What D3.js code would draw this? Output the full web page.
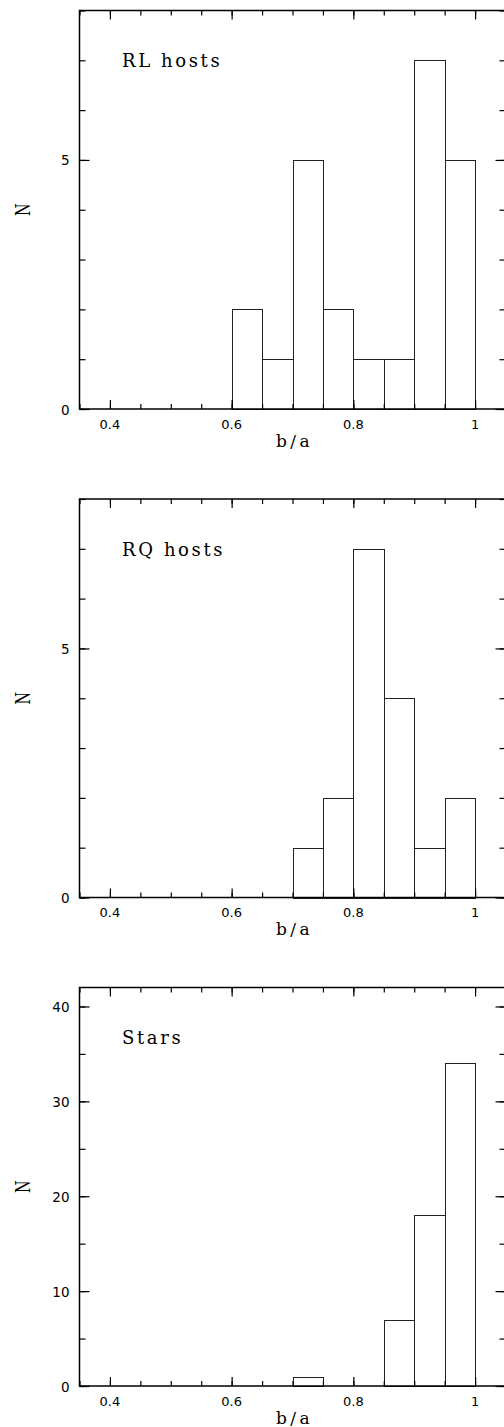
<!DOCTYPE html>
<html><head><meta charset="utf-8">
<script src="https://cdn.jsdelivr.net/npm/d3@7"></script>
<style>html,body{margin:0;padding:0;background:#fff;overflow:hidden}</style>
</head><body>
<svg id="chart" width="504" height="1427"></svg>
<script>
// ---- data ----
const binStarts = [0.60, 0.65, 0.70, 0.75, 0.80, 0.85, 0.90, 0.95];
const binWidth = 0.05;
const rlCounts = [2, 1, 5, 2, 1, 1, 7, 5];
const rqCounts = [0, 0, 1, 2, 7, 4, 1, 2];
const starCounts = [0, 0, 1, 0, 0, 7, 18, 34];
const panelNames = ["RL hosts", "RQ hosts", "Stars"];
const xMajorTicks = [0.4, 0.6, 0.8, 1.0];
const xTickLabels = ["0.4", "0.6", "0.8", "1"];
const xMinorTicks = [0.35,0.40,0.45,0.50,0.55,0.60,0.65,0.70,0.75,0.80,0.85,0.90,0.95,1.00,1.05];
const yMaxes = [8, 8, 42];
const yMajorTicksList = [[0, 5], [0, 5], [0, 10, 20, 30, 40]];
const yMinorTicksList = [[0,1,2,3,4,5,6,7,8],[0,1,2,3,4,5,6,7,8],[0,5,10,15,20,25,30,35,40]];
const xLabel = "b/a", yLabel = "N";

// ---- layout ----
const svg = d3.select("#chart");
const left = 79.5, right = 505.5;
const tops = [10.5, 499, 987.5], panelH = 398.5;
const x = d3.scaleLinear().domain([0.35, 1.05]).range([left, right]);
const seriesList = [rlCounts, rqCounts, starCounts];

seriesList.forEach((counts, i) => {
  const top = tops[i], bottom = top + panelH;
  const y = d3.scaleLinear().domain([0, yMaxes[i]]).range([bottom, top]);
  const g = svg.append("g");

  // bars
  const bins = binStarts.map((s, j) => ({s, n: counts[j]})).filter(d => d.n > 0);
  g.selectAll("rect.bar").data(bins).enter().append("rect")
    .attr("class", "bar")
    .attr("x", d => Math.round(x(d.s)) + 0.5)
    .attr("width", d => Math.round(x(d.s + binWidth)) - Math.round(x(d.s)))
    .attr("y", d => Math.round(y(d.n)) + 0.5)
    .attr("height", d => Math.round(bottom) - Math.round(y(d.n)))
    .attr("fill", "none").attr("stroke", "#222").attr("stroke-width", 1);

  // ticks (axes drawn inside the frame)
  const mk = (axis, tr) => {
    const a = g.append("g").attr("transform", tr).call(axis);
    a.selectAll("text").remove();
    a.select(".domain").remove();
    a.selectAll("line").attr("stroke", "#000").attr("stroke-width", 1.2);
    return a;
  };
  mk(d3.axisBottom(x).tickValues(xMinorTicks).tickSizeInner(-5).tickSizeOuter(0), `translate(0,${bottom})`);
  mk(d3.axisBottom(x).tickValues(xMajorTicks).tickSizeInner(-9).tickSizeOuter(0), `translate(0,${bottom})`);
  mk(d3.axisTop(x).tickValues(xMinorTicks).tickSizeInner(-5).tickSizeOuter(0), `translate(0,${top})`);
  mk(d3.axisTop(x).tickValues(xMajorTicks).tickSizeInner(-9).tickSizeOuter(0), `translate(0,${top})`);
  mk(d3.axisLeft(y).tickValues(yMinorTicksList[i]).tickSizeInner(-6).tickSizeOuter(0), `translate(${left},0)`);
  mk(d3.axisLeft(y).tickValues(yMajorTicksList[i]).tickSizeInner(-10).tickSizeOuter(0), `translate(${left},0)`);
  mk(d3.axisRight(y).tickValues(yMinorTicksList[i]).tickSizeInner(-6).tickSizeOuter(0), `translate(${right},0)`);
  mk(d3.axisRight(y).tickValues(yMajorTicksList[i]).tickSizeInner(-10).tickSizeOuter(0), `translate(${right},0)`);

  // frame
  g.append("rect").attr("x", left).attr("y", top).attr("width", right - left).attr("height", panelH)
    .attr("fill", "none").attr("stroke", "#000").attr("stroke-width", 1.5);

  // x tick labels
  g.selectAll("text.xl").data(xMajorTicks).enter().append("text")
    .attr("x", d => x(d)).attr("y", bottom + 19.5)
    .attr("text-anchor", "middle")
    .attr("font-family", "DejaVu Sans").attr("font-size", 13).attr("fill", "#000")
    .text((d, j) => xTickLabels[j]);

  // y tick labels
  g.selectAll("text.yl").data(yMajorTicksList[i]).enter().append("text")
    .attr("x", left - 10).attr("y", d => y(d) + 5.5)
    .attr("text-anchor", "end")
    .attr("font-family", "DejaVu Sans").attr("font-size", 13.5).attr("fill", "#000")
    .text(d => d);

  // axis labels
  g.append("text").attr("x", x(0.7) + 2).attr("y", bottom + 37.5)
    .attr("text-anchor", "middle")
    .attr("font-family", "DejaVu Serif").attr("font-size", 17).attr("letter-spacing", 3.5).attr("fill", "#000")
    .text(xLabel);
  g.append("text")
    .attr("transform", `translate(30,${(top + bottom) / 2}) rotate(-90) scale(0.72,1)`)
    .attr("text-anchor", "middle")
    .attr("font-family", "DejaVu Serif").attr("font-size", 20).attr("fill", "#000")
    .text(yLabel);

  // panel name
  g.append("text").attr("x", x(0.42)).attr("y", top + 56.5)
    .attr("font-family", "DejaVu Serif").attr("font-size", 18).attr("letter-spacing", 2.6).attr("fill", "#000")
    .text(panelNames[i]);
});
</script>
</body></html>
